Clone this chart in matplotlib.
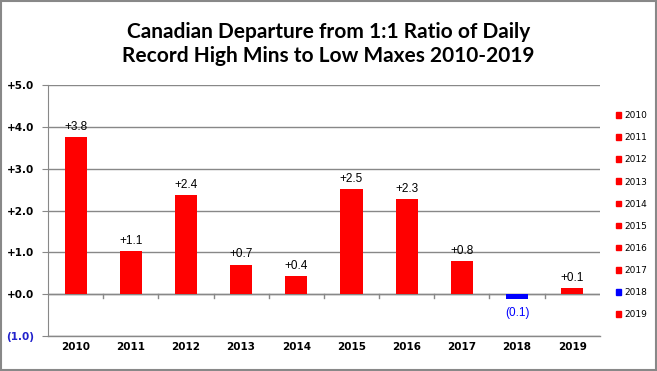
import numpy as np
import matplotlib.pyplot as plt
from matplotlib.patches import Patch

years = ['2010', '2011', '2012', '2013', '2014', '2015', '2016', '2017', '2018', '2019']
departure = [3.75, 1.04, 2.36, 0.71, 0.43, 2.51, 2.27, 0.79, -0.11, 0.14]
labels = ['+3.8', '+1.1', '+2.4', '+0.7', '+0.4', '+2.5', '+2.3', '+0.8', '(0.1)', '+0.1']
yticks = [-1, 0, 1, 2, 3, 4, 5]
ytick_labels = ['(1.0)', '+0.0', '+1.0', '+2.0', '+3.0', '+4.0', '+5.0']

colors = ['#0000ff' if v < 0 else '#ff0000' for v in departure]

fig = plt.figure(figsize=(6.57, 3.71), dpi=100)
ax = fig.add_axes([0.073, 0.094, 0.84, 0.677])

x = np.arange(len(years))
ax.bar(x, departure, width=0.4, color=colors, zorder=3)
ax.set_xlim(-0.5, len(years) - 0.5)
ax.set_ylim(-1, 5)

for i, (v, lab) in enumerate(zip(departure, labels)):
    if v < 0:
        ax.text(i, v - 0.2, lab, ha='center', va='top', fontsize=8.5,
                color='#0000ff', family='Liberation Sans')
    else:
        ax.text(i, v + 0.1, lab, ha='center', va='bottom', fontsize=8.5,
                family='Liberation Sans')

ax.set_yticks(yticks)
ax.set_yticklabels(ytick_labels, fontsize=7.5, fontweight='bold')
for t, val in zip(ax.get_yticklabels(), yticks):
    if val < 0:
        t.set_color('#2222cc')
ax.grid(axis='y', color='#888888', linewidth=1, zorder=0)
ax.tick_params(axis='y', length=4, color='#888888', pad=6)

# x axis drawn at zero, labels along bottom
ax.set_xticks([])
ax.axhline(0, color='#888888', linewidth=1, zorder=2)
ax.axhline(-1, color='#888888', linewidth=1, zorder=2, clip_on=False)
for b in np.arange(0.5, len(years) - 0.5, 1):
    ax.plot([b, b], [0, -0.1], color='#888888', linewidth=1, zorder=2)
for i, yr in enumerate(years):
    ax.text(i, -1.25, yr, ha='center', va='center', fontsize=7.5,
            fontweight='bold')

for s in ['top', 'right', 'bottom']:
    ax.spines[s].set_visible(False)
ax.spines['left'].set_color('#888888')

handles = [Patch(color=c, label=yr) for c, yr in zip(colors, years)]
fig.legend(handles=handles, loc='center left', bbox_to_anchor=(0.925, 0.42),
           frameon=False, fontsize=6.5, handlelength=0.6, handleheight=0.6,
           handletextpad=0.3, labelspacing=1.45)

fig.text(0.5, 0.915, 'Canadian Departure from 1:1 Ratio of Daily', ha='center',
         va='center', fontsize=15, fontweight='bold', family='Lato')
fig.text(0.5, 0.85, 'Record High Mins to Low Maxes 2010-2019', ha='center',
         va='center', fontsize=15, fontweight='bold', family='Lato')

border = plt.Rectangle((0.001, 0.002), 0.997, 0.995, transform=fig.transFigure,
                       fill=False, edgecolor='#888888', linewidth=1.5)
fig.patches.append(border)

fig.savefig('out.png', dpi=100)
